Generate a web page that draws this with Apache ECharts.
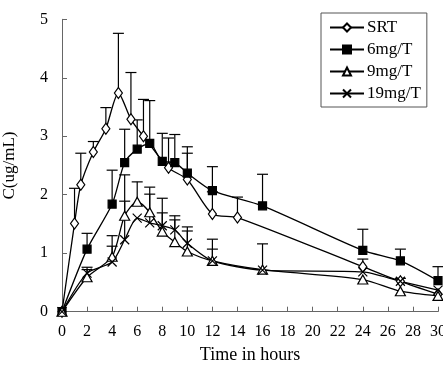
<!DOCTYPE html>
<html>
<head>
<meta charset="utf-8">
<script src="https://cdn.jsdelivr.net/npm/echarts@6/dist/echarts.min.js"></script>
<style>html,body{margin:0;padding:0;background:#fff;}#c{width:443px;height:376px;}</style>
</head>
<body>
<div id="c"></div>
<script>
// ---- data ----
var xTicks = [0,2,4,6,8,10,12,14,16,18,20,22,24,26,28,30];
var yTicks = [0,1,2,3,4,5];

var srtTime  = [0,1,1.5,2.5,3.5,4.5,5.5,6.5,8.5,10,12,14,24,27,30];
var srtConc  = [0,1.51,2.17,2.73,3.13,3.74,3.29,3.00,2.46,2.26,1.67,1.61,0.77,0.52,0.30];
var srtUpper = [null,2.11,2.71,2.91,3.49,4.76,4.09,3.63,2.97,2.71,2.05,1.96,0.90,null,null];

var doseTime = [0,2,4,5,6,7,8,9,10,12,16,24,27,30];
var mg6Conc  = [0,1.07,1.84,2.55,2.78,2.88,2.57,2.55,2.37,2.07,1.81,1.05,0.87,0.53];
var mg6Upper = [null,1.34,2.42,3.12,3.28,3.61,3.05,3.03,2.82,2.48,2.35,1.41,1.07,0.77];

var mg9Conc  = [0,0.59,0.94,1.64,1.88,1.70,1.37,1.19,1.03,0.87,0.72,0.55,0.35,0.27];
var mg9Upper = [null,0.76,1.30,2.34,2.22,2.13,1.94,1.64,1.45,1.07,1.16,null,null,null];

var mg19Conc  = [0,0.66,0.85,1.23,1.60,1.52,1.47,1.40,1.17,0.87,0.71,0.68,0.52,0.37];
var mg19Upper = [null,0.72,1.12,1.89,null,2.01,1.69,1.57,1.38,1.24,null,null,0.57,null];

var seriesNames = ['SRT','6mg/T','9mg/T','19mg/T'];

// ---- build ----
function pairs(t, v){ return t.map(function(x,i){ return [x, v[i]]; }); }
function errPairs(t, v, u){
  var out = [];
  t.forEach(function(x,i){ if(u[i]!=null) out.push([x, v[i], u[i]]); });
  return out;
}
var FONT = 'Liberation Serif';
var chart = echarts.init(document.getElementById('c'), null, {renderer:'canvas'});

function errSeries(data){
  return {
    type:'custom', silent:true, z:1,
    data:data,
    renderItem:function(params, api){
      var p0 = api.coord([api.value(0), api.value(1)]);
      var p1 = api.coord([api.value(0), api.value(2)]);
      var hw = 5.5;
      var st = {stroke:'#000', lineWidth:1.2};
      return {type:'group', children:[
        {type:'line', shape:{x1:p0[0],y1:p0[1],x2:p1[0],y2:p1[1]}, style:st},
        {type:'line', shape:{x1:p1[0]-hw,y1:p1[1],x2:p1[0]+hw,y2:p1[1]}, style:st}
      ]};
    }
  };
}
function lineSeries(name, data, symbol, size, fill){
  return {
    name:name, type:'line', data:data, smooth:0.25, z:3,
    symbol:symbol, symbolSize:size, showSymbol:true,
    lineStyle:{color:'#000', width:1.3},
    itemStyle:{color:fill, borderColor:'#000', borderWidth:1.2},
    emphasis:{disabled:true}
  };
}
var crossPath = 'path://M0,0L10,10M10,0L0,10';

chart.setOption({
  animation:false,
  backgroundColor:'#fff',
  grid:{left:62, right:5, top:19.3, bottom:64.3, containLabel:false, outerBoundsMode:'none'},
  legend:{
    orient:'vertical', left:321, top:13, width:104, height:94,
    padding:[6,6,5,8], itemGap:5,
    itemWidth:34, itemHeight:10,
    borderColor:'#555', borderWidth:1, backgroundColor:'#fff',
    textStyle:{fontFamily:FONT, fontSize:17, color:'#000', padding:[0,0,0,-2]},
    data:seriesNames
  },
  xAxis:{
    type:'value', min:0, max:30, interval:2,
    name:'Time in hours', nameLocation:'middle', nameGap:35,
    nameTextStyle:{fontFamily:FONT, fontSize:18, color:'#000'},
    axisLine:{show:true, onZero:false, lineStyle:{color:'#666', width:1}},
    axisTick:{show:true, inside:true, length:5, lineStyle:{color:'#666'}},
    axisLabel:{fontFamily:FONT, fontSize:16, color:'#000', margin:12,
      formatter:function(v){ return xTicks.indexOf(v)>=0 ? String(v) : ''; }},
    splitLine:{show:false}
  },
  yAxis:{
    type:'value', min:0, max:5, interval:1,
    name:'C(ug/mL)', nameLocation:'middle', nameGap:44,
    nameTextStyle:{fontFamily:FONT, fontSize:17, color:'#000'},
    axisLine:{show:true, lineStyle:{color:'#666', width:1}},
    axisTick:{show:true, inside:true, length:5, lineStyle:{color:'#666'}},
    axisLabel:{fontFamily:FONT, fontSize:16, color:'#000', margin:14,
      formatter:function(v){ return yTicks.indexOf(v)>=0 ? String(v) : ''; }},
    splitLine:{show:false}
  },
  series:[
    errSeries(errPairs(srtTime, srtConc, srtUpper)),
    errSeries(errPairs(doseTime, mg6Conc, mg6Upper)),
    errSeries(errPairs(doseTime, mg9Conc, mg9Upper)),
    errSeries(errPairs(doseTime, mg19Conc, mg19Upper)),
    lineSeries(seriesNames[0], pairs(srtTime, srtConc), 'diamond', [8,11], '#fff'),
    lineSeries(seriesNames[1], pairs(doseTime, mg6Conc), 'rect', 8, '#000'),
    lineSeries(seriesNames[2], pairs(doseTime, mg9Conc), 'triangle', [10,9], '#fff'),
    lineSeries(seriesNames[3], pairs(doseTime, mg19Conc), crossPath, 9, 'none')
  ]
});
</script>
</body>
</html>
